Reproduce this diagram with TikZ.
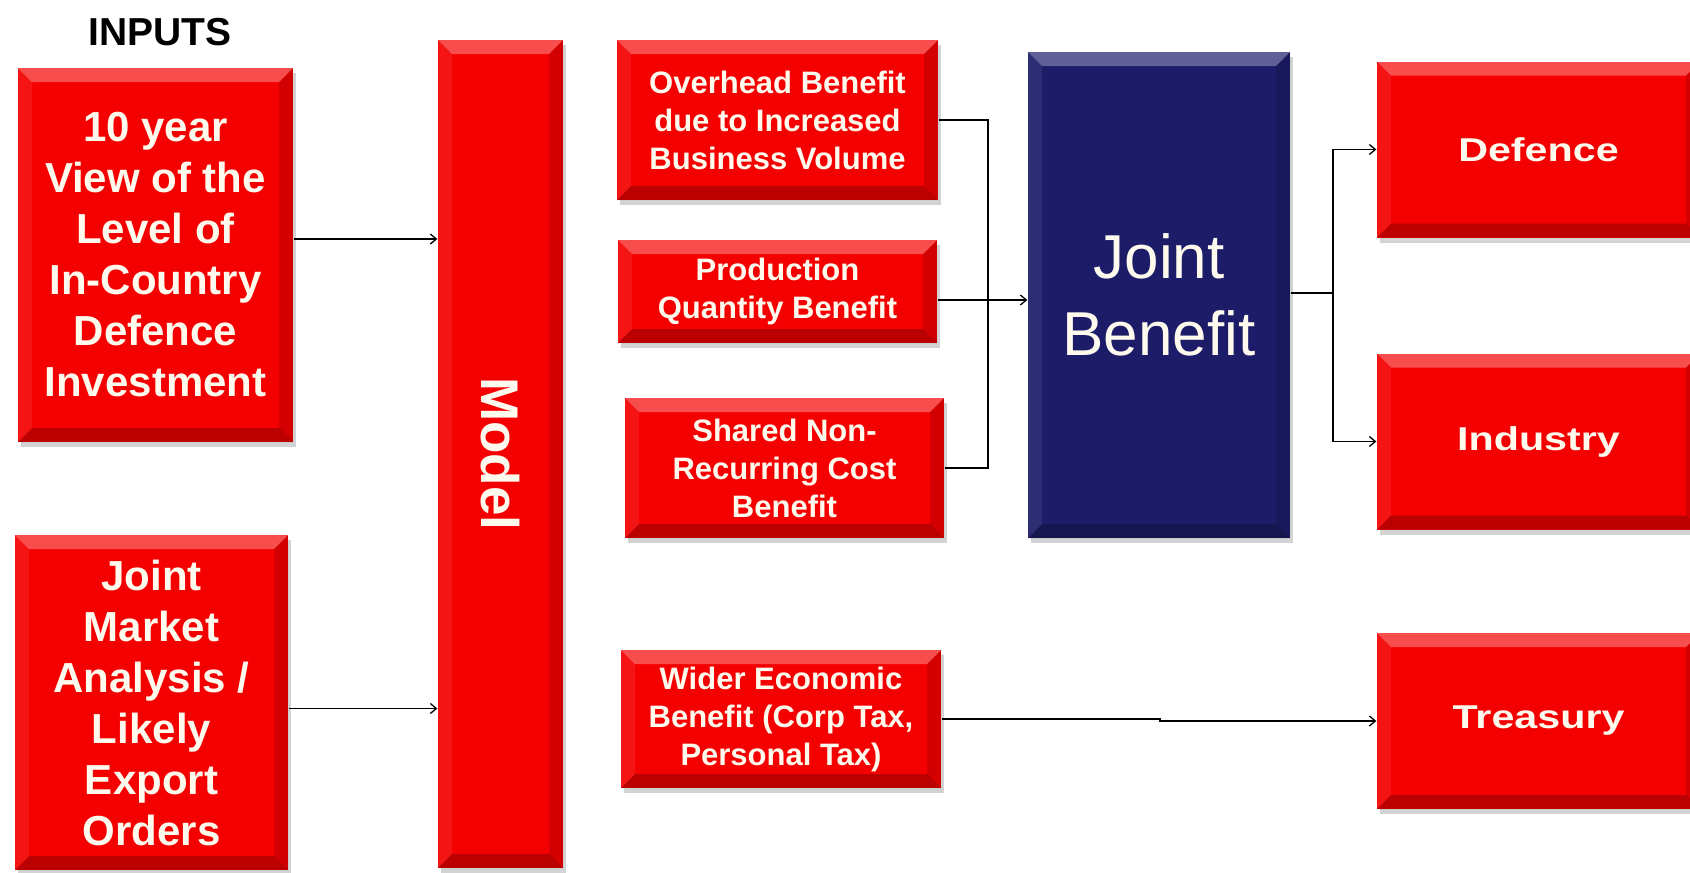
\documentclass[tikz,border=0pt]{standalone}
\usepackage{fontspec}
\setmainfont{Liberation Sans}
\newfontfamily\widesans[FakeStretch=1.25]{Liberation Sans}
\usetikzlibrary{arrows.meta,shadows}

\definecolor{boxred}{RGB}{245,0,0}
\definecolor{boxnavy}{RGB}{28,28,105}
\definecolor{boxtext}{RGB}{255,250,238}

\begin{document}
\begin{tikzpicture}[x=1pt,y=-1pt,line width=1.3pt,>={Straight Barb[length=6pt,width=10pt]},
	bevel/.style={path picture={
		\coordinate (pa) at (path picture bounding box.north west);
		\coordinate (pb) at (path picture bounding box.north east);
		\coordinate (pc) at (path picture bounding box.south east);
		\coordinate (pd) at (path picture bounding box.south west);
		\fill[white,opacity=0.3] (pa)--(pb)--([shift={(-14pt,-14pt)}]pb)--([shift={(14pt,-14pt)}]pa)--cycle;
		\fill[white,opacity=0.08] (pa)--([shift={(14pt,-14pt)}]pa)--([shift={(14pt,14pt)}]pd)--(pd)--cycle;
		\fill[black,opacity=0.14] (pb)--(pc)--([shift={(-14pt,14pt)}]pc)--([shift={(-14pt,-14pt)}]pb)--cycle;
		\fill[black,opacity=0.24] (pd)--([shift={(14pt,14pt)}]pd)--([shift={(-14pt,14pt)}]pc)--(pc)--cycle;
	}},
	tile/.style={bevel, drop shadow={shadow xshift=3pt,shadow yshift=-5pt,opacity=0.35},
		inner sep=0pt, align=center, text=boxtext},
	redtile/.style={tile, fill=boxred},
	inbox/.style={redtile, font=\bfseries\fontsize{42}{51}\selectfont},
	midbox/.style={redtile, font=\bfseries\fontsize{31}{38}\selectfont},
	outbox/.style={redtile, font=\widesans\bfseries\fontsize{33}{40}\selectfont,
		minimum width=323pt, minimum height=176pt}]

\useasboundingbox (0,0) rectangle (1690,873);

% inputs
\node[font=\bfseries\fontsize{39}{44}\selectfont] (inputs) at (160,32) {INPUTS};
\node[inbox, minimum width=275pt, minimum height=374pt] (view) at (155.5,255)
	{10 year\\View of the\\Level of\\In-Country\\Defence\\Investment};
\node[inbox, minimum width=273pt, minimum height=335pt] (market) at (151.5,702.5)
	{Joint\\Market\\Analysis /\\Likely\\Export\\Orders};

% model
\node[redtile, minimum width=125pt, minimum height=828pt,
	font=\bfseries\fontsize{53}{60}\selectfont] (model) at (500.5,454) {\rotatebox{-90}{Model}};

% benefits
\node[midbox, minimum width=321pt, minimum height=160pt] (overhead) at (777.5,120)
	{Overhead Benefit\\due to Increased\\Business Volume};
\node[midbox, minimum width=319pt, minimum height=103pt] (production) at (777.5,291.5)
	{Production\\Quantity Benefit};
\node[midbox, minimum width=319pt, minimum height=140pt] (shared) at (784.5,468)
	{Shared Non-\\Recurring Cost\\Benefit};
\node[midbox, minimum width=320pt, minimum height=138pt] (wider) at (781,719)
	{Wider Economic\\Benefit (Corp Tax,\\Personal Tax)};

\node[tile, fill=boxnavy, minimum width=262pt, minimum height=486pt,
	font=\fontsize{62}{77}\selectfont] (joint) at (1159,295) {Joint\\Benefit};

% outputs
\node[outbox] (defence) at (1538.5,149.5) {Defence};
\node[outbox] (industry) at (1538.5,441.5) {Industry};
\node[outbox] (treasury) at (1538.5,721) {Treasury};

\coordinate (busL) at (988,300);
\coordinate (busR) at (1333,293);
\coordinate (jog) at (1160,721);

\draw[->] ([yshift=16pt]view.east) -- ([yshift=16pt]view.east -| model.west);
\draw[->] ([yshift=-6pt]market.east) -- ([yshift=-6pt]market.east -| model.west);

\draw (overhead.east) -| (busL) |- (shared.east);
\draw[->] (production.east |- busL) -- (joint.west |- busL);

\draw (joint.east |- busR) -- (busR);
\draw[<->] (defence.west) -| (busR) |- (industry.west);

\draw[->] (wider.east) -| (jog) -- (treasury.west);
\end{tikzpicture}
\end{document}
